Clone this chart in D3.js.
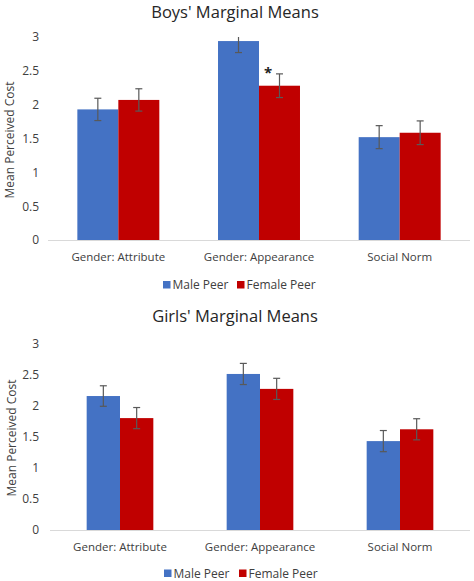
<!DOCTYPE html>
<html><head><meta charset="utf-8">
<script src="https://cdn.jsdelivr.net/npm/d3@7"></script>
<style>body{margin:0;background:#fff}svg{display:block}text{font-family:"Open Sans","Noto Sans",sans-serif}</style>
</head><body>
<script>
const categories = ["Gender: Attribute", "Gender: Appearance", "Social Norm"];
const seriesNames = ["Male Peer", "Female Peer"];
const colors = ["#4472C4", "#C00000"];
const yTicks = [0, 0.5, 1, 1.5, 2, 2.5, 3];

const boysMale = [1.93, 2.94, 1.52];
const boysFemale = [2.07, 2.28, 1.585];
const boysMaleErr = [0.165, 0.17, 0.17];
const boysFemaleErr = [0.165, 0.175, 0.175];

const girlsMale = [2.155, 2.51, 1.43];
const girlsFemale = [1.80, 2.27, 1.62];
const girlsMaleErr = [0.165, 0.17, 0.17];
const girlsFemaleErr = [0.17, 0.17, 0.17];

const W = 474, H = 581;
const svg = d3.select("body").append("svg").attr("width", W).attr("height", H);

function drawChart(cfg) {
  const g = svg.append("g");
  const y = d3.scaleLinear().domain([0, 3]).range([cfg.y0, cfg.y3]);
  const x0 = d3.scaleBand().domain(categories).range([cfg.xl, cfg.xr]).padding(0);
  const x1 = d3.scaleBand().domain(seriesNames).range([0, x0.bandwidth()])
    .paddingInner(0).paddingOuter(cfg.po);

  // title
  g.append("text").attr("x", 235).attr("y", cfg.titleY).attr("text-anchor", "middle")
    .attr("font-size", 16.5).attr("fill", "#262626").text(cfg.title);

  // y axis labels
  const ya = g.append("g").attr("transform", `translate(${cfg.tickX},0)`)
    .call(d3.axisLeft(y).tickValues(yTicks).tickSize(0).tickPadding(0).tickFormat(d3.format("")));
  ya.select(".domain").remove();
  ya.selectAll("text").attr("font-size", 12).attr("fill", "#404040")
    .style("font-family", '"Open Sans","Noto Sans",sans-serif');

  g.append("text").attr("transform", `translate(${cfg.labX},${cfg.labY}) rotate(-90)`)
    .attr("text-anchor", "middle").attr("dy", "0.35em").attr("font-size", 12).attr("fill", "#404040")
    .text("Mean Perceived Cost");

  const data = [];
  categories.forEach((c, i) => {
    seriesNames.forEach((s, j) => {
      data.push({ c, s, j, v: cfg.vals[j][i], e: cfg.errs[j][i] });
    });
  });

  g.selectAll("rect.bar").data(data).join("rect").attr("class", "bar")
    .attr("x", d => x0(d.c) + x1(d.s))
    .attr("width", x1.bandwidth())
    .attr("y", d => y(d.v))
    .attr("height", d => y(0) - y(d.v))
    .attr("fill", d => colors[d.j]);

  // baseline
  g.append("line").attr("x1", cfg.xl).attr("x2", cfg.xr).attr("y1", y(0) + 0.5).attr("y2", y(0) + 0.5)
    .attr("stroke", "#d9d9d9").attr("stroke-width", 1.2);

  // error bars
  const eb = g.selectAll("g.err").data(data).join("g").attr("class", "err")
    .attr("transform", d => `translate(${x0(d.c) + x1(d.s) + x1.bandwidth() / 2},0)`);
  const cap = 3.5;
  eb.append("line").attr("y1", d => y(Math.min(3, d.v + d.e))).attr("y2", d => y(d.v - d.e))
    .attr("stroke", "#595959").attr("stroke-width", 1.2);
  eb.filter(d => d.v + d.e <= 3).append("line").attr("x1", -cap).attr("x2", cap)
    .attr("y1", d => y(d.v + d.e)).attr("y2", d => y(d.v + d.e))
    .attr("stroke", "#595959").attr("stroke-width", 1.2);
  eb.append("line").attr("x1", -cap).attr("x2", cap)
    .attr("y1", d => y(d.v - d.e)).attr("y2", d => y(d.v - d.e))
    .attr("stroke", "#595959").attr("stroke-width", 1.2);

  // x category labels
  g.selectAll("text.cat").data(categories).join("text").attr("class", "cat")
    .attr("x", d => x0(d) + x0.bandwidth() / 2).attr("y", cfg.catY)
    .attr("text-anchor", "middle").attr("font-size", 11.5).attr("fill", "#404040").text(d => d);

  // legend
  const lg = g.append("g");
  cfg.legX.forEach((lx, j) => {
    lg.append("rect").attr("x", lx).attr("y", cfg.legY - 8).attr("width", 7.5).attr("height", 7.5)
      .attr("fill", colors[j]);
    lg.append("text").attr("x", lx + 9.5).attr("y", cfg.legY).attr("font-size", 12)
      .attr("fill", "#404040").text(seriesNames[j]);
  });

  if (cfg.star) {
    const i = categories.indexOf(cfg.star.cat);
    g.append("text").attr("x", x0(categories[i]) + x1(seriesNames[cfg.star.s]) + 9)
      .attr("y", y(cfg.vals[cfg.star.s][i] + cfg.errs[cfg.star.s][i]) + 4)
      .attr("text-anchor", "middle").attr("font-size", 15).attr("font-weight", "bold")
      .attr("fill", "#222").text("*");
  }
}

drawChart({
  title: "Boys' Marginal Means", titleY: 17.5,
  y0: 240, y3: 37, xl: 48, xr: 470, po: 0.716,
  tickX: 39, labX: 10, labY: 140, catY: 261, legY: 289, legX: [163, 237],
  vals: [boysMale, boysFemale], errs: [boysMaleErr, boysFemaleErr],
  star: { cat: "Gender: Appearance", s: 1 }
});

drawChart({
  title: "Girls' Marginal Means", titleY: 322,
  y0: 530, y3: 343.5, xl: 50, xr: 470, po: 1.1,
  tickX: 39, labX: 12, labY: 438, catY: 551, legY: 577.5, legX: [164, 239],
  vals: [girlsMale, girlsFemale], errs: [girlsMaleErr, girlsFemaleErr]
});
</script>
</body></html>
